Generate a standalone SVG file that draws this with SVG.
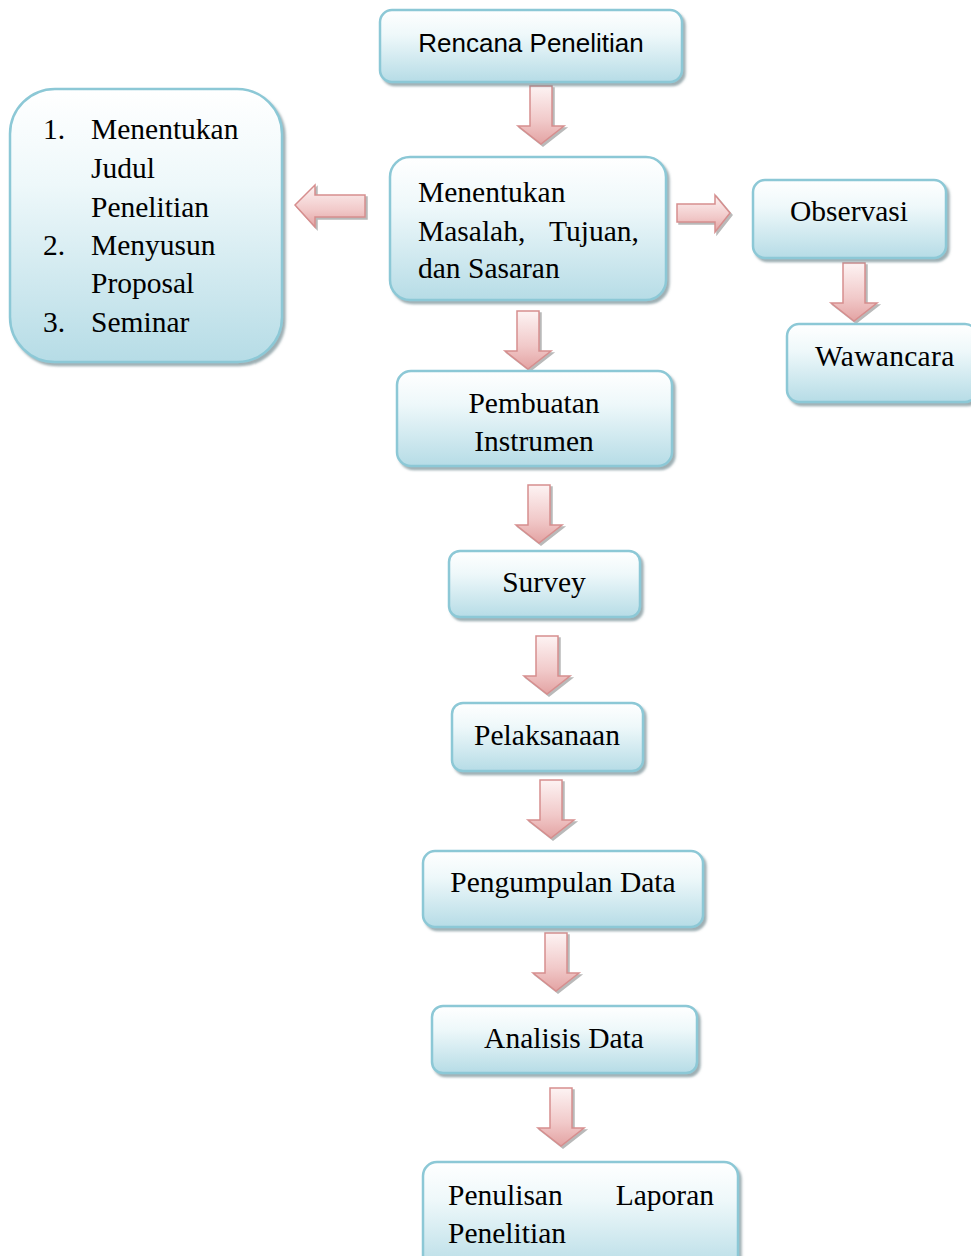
<svg xmlns="http://www.w3.org/2000/svg" xmlns:xlink="http://www.w3.org/1999/xlink" width="971" height="1256" viewBox="0 0 971 1256">
<defs>
  <linearGradient id="boxFill" x1="0" y1="0" x2="0" y2="1">
    <stop offset="0" stop-color="#ffffff"/>
    <stop offset="0.35" stop-color="#eef8fa"/>
    <stop offset="1" stop-color="#b6dce6"/>
  </linearGradient>
  <linearGradient id="arrowFill" x1="0" y1="0" x2="0" y2="1">
    <stop offset="0" stop-color="#fdf3f3"/>
    <stop offset="0.6" stop-color="#f1c9c9"/>
    <stop offset="1" stop-color="#e3a3a3"/>
  </linearGradient>
  <filter id="shadow" x="-10%" y="-10%" width="125%" height="130%">
    <feDropShadow dx="2.5" dy="3" stdDeviation="0.8" flood-color="#5f7a82" flood-opacity="0.6"/>
  </filter>
  <filter id="ashadow" x="-20%" y="-20%" width="150%" height="150%">
    <feDropShadow dx="2" dy="2" stdDeviation="0.6" flood-color="#8a8a8a" flood-opacity="0.6"/>
  </filter>
  <path id="down" d="M -11 0 L 11 0 L 11 40 L 23 40 L 0 58 L -23 40 L -11 40 Z"/>
</defs>
<style>
  .box { fill: url(#boxFill); stroke: #8cc8d6; stroke-width: 2.5; filter: url(#shadow); }
  .arrow { fill: url(#arrowFill); stroke: #d68e8e; stroke-width: 1.5; filter: url(#ashadow); }
  .t { font-family: "Liberation Serif", "Times New Roman", serif; font-size: 29.5px; fill: #000; }
  .s { font-family: "Liberation Sans", Arial, sans-serif; font-size: 26px; fill: #000; }
  .c { text-anchor: middle; }
  .e { text-anchor: end; }
</style>
<rect width="971" height="1256" fill="#ffffff"/>

<g id="connectors">
  <use xlink:href="#down" class="arrow" transform="translate(541,86)"/>
  <path class="arrow" d="M 365 195 L 315 195 L 315 185 L 295 205 L 315 227 L 315 217 L 365 217 Z"/>
  <path class="arrow" d="M 677 204 L 715 204 L 715 195 L 730 213 L 715 232 L 715 222 L 677 222 Z"/>
  <use xlink:href="#down" class="arrow" transform="translate(854,263)"/>
  <use xlink:href="#down" class="arrow" transform="translate(528,311)"/>
  <use xlink:href="#down" class="arrow" transform="translate(539,485)"/>
  <use xlink:href="#down" class="arrow" transform="translate(547,636)"/>
  <use xlink:href="#down" class="arrow" transform="translate(551,780)"/>
  <use xlink:href="#down" class="arrow" transform="translate(556,933)"/>
  <use xlink:href="#down" class="arrow" transform="translate(561,1088)"/>
</g>

<g id="rencana">
  <rect class="box" x="380" y="10" width="302" height="72" rx="12"/>
  <text class="s c" x="531" y="52">Rencana Penelitian</text>
</g>

<g id="langkah">
  <rect class="box" x="10" y="89" width="272" height="273" rx="45"/>
  <text class="t" x="43" y="139">1.</text>
  <text class="t" x="91" y="139">Menentukan</text>
  <text class="t" x="91" y="178">Judul</text>
  <text class="t" x="91" y="217">Penelitian</text>
  <text class="t" x="43" y="255">2.</text>
  <text class="t" x="91" y="255">Menyusun</text>
  <text class="t" x="91" y="293">Proposal</text>
  <text class="t" x="43" y="332">3.</text>
  <text class="t" x="91" y="332">Seminar</text>
</g>

<g id="masalah">
  <rect class="box" x="390" y="157" width="276" height="143" rx="20"/>
  <text class="t" x="418" y="202">Menentukan</text>
  <text class="t" x="418" y="241">Masalah,</text>
  <text class="t e" x="639" y="241">Tujuan,</text>
  <text class="t" x="418" y="278">dan Sasaran</text>
</g>

<g id="observasi">
  <rect class="box" x="753" y="180" width="193" height="78" rx="12"/>
  <text class="t c" x="849" y="221">Observasi</text>
</g>

<g id="wawancara">
  <rect class="box" x="787" y="324" width="190" height="78" rx="12"/>
  <text class="t" x="815" y="366" letter-spacing="0.3">Wawancara</text>
</g>

<g id="pembuatan">
  <rect class="box" x="397" y="371" width="275" height="95" rx="14"/>
  <text class="t c" x="534" y="413">Pembuatan</text>
  <text class="t c" x="534" y="451">Instrumen</text>
</g>

<g id="survey">
  <rect class="box" x="449" y="551" width="191" height="66" rx="11"/>
  <text class="t c" x="544" y="592">Survey</text>
</g>

<g id="pelaksanaan">
  <rect class="box" x="452" y="703" width="191" height="68" rx="11"/>
  <text class="t c" x="547" y="745">Pelaksanaan</text>
</g>

<g id="pengumpulan">
  <rect class="box" x="423" y="851" width="280" height="76" rx="12"/>
  <text class="t c" x="563" y="892">Pengumpulan Data</text>
</g>

<g id="analisis">
  <rect class="box" x="432" y="1006" width="265" height="67" rx="11"/>
  <text class="t c" x="564" y="1048">Analisis Data</text>
</g>

<g id="penulisan">
  <rect class="box" x="423" y="1162" width="315" height="110" rx="14"/>
  <text class="t" x="448" y="1205">Penulisan</text>
  <text class="t e" x="714" y="1205">Laporan</text>
  <text class="t" x="448" y="1243">Penelitian</text>
</g>
</svg>
